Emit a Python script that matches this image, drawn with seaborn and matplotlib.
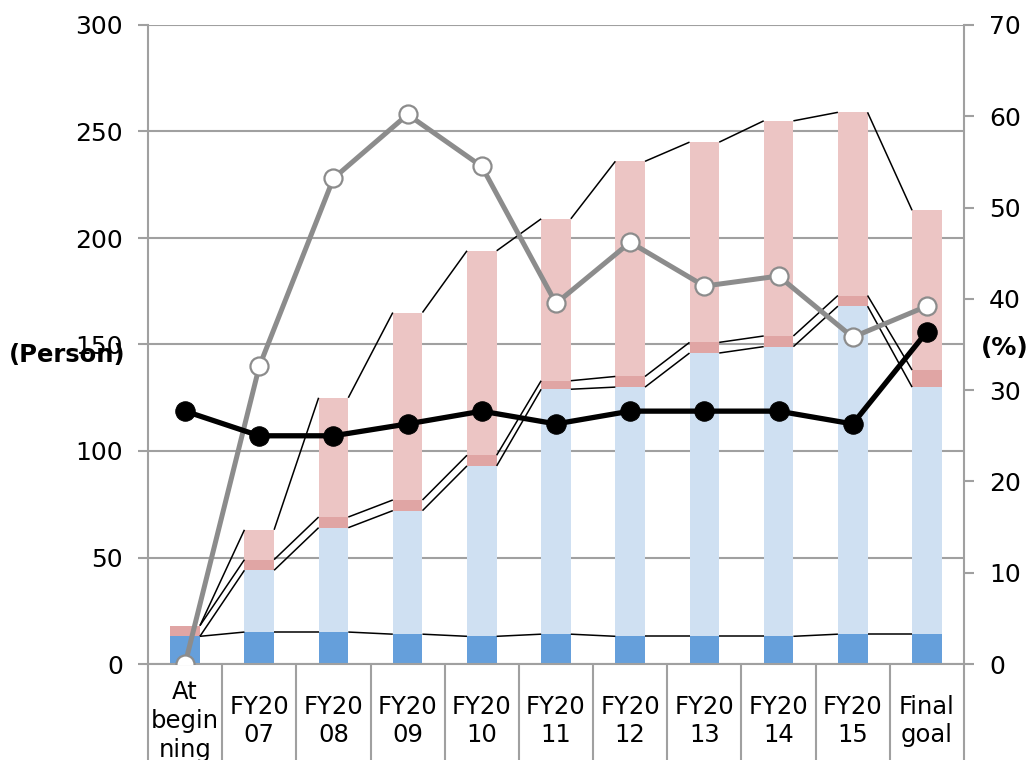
import numpy as np
import pandas as pd
import matplotlib
matplotlib.use("Agg")
import matplotlib.pyplot as plt
import seaborn as sns

# ---- data -------------------------------------------------------------
categories = ["At\nbegin\nning", "FY20\n07", "FY20\n08", "FY20\n09", "FY20\n10",
              "FY20\n11", "FY20\n12", "FY20\n13", "FY20\n14", "FY20\n15", "Final\ngoal"]

# stacked bar segments (persons), bottom to top
seg_dark_blue = [13, 15, 15, 14, 13, 14, 13, 13, 13, 14, 14]
seg_light_blue = [0, 29, 49, 58, 80, 115, 117, 133, 136, 154, 116]
seg_dark_pink = [5, 5, 5, 5, 5, 4, 5, 5, 5, 5, 8]
seg_light_pink = [0, 14, 56, 88, 96, 76, 101, 94, 101, 86, 75]

# ratios on the secondary axis (%)
ratio_gray = [0, 32.6, 53.2, 60.2, 54.5, 39.5, 46.2, 41.4, 42.5, 35.8, 39.2]
ratio_black = [27.7, 25.0, 25.0, 26.3, 27.7, 26.3, 27.7, 27.7, 27.7, 26.3, 36.4]

left_ticks = [0, 50, 100, 150, 200, 250, 300]
right_ticks = [0, 10, 20, 30, 40, 50, 60, 70]

# ---- styling ----------------------------------------------------------
sns.set_theme(style="white")
plt.rcParams["font.family"] = ["DejaVu Sans"]
plt.rcParams["text.color"] = "black"
plt.rcParams["xtick.labelcolor"] = "black"
plt.rcParams["ytick.labelcolor"] = "black"

c_dark_blue = "#659fdb"
c_light_blue = "#cfe0f2"
c_dark_pink = "#e0a5a4"
c_light_pink = "#ecc5c4"
c_axis = "#a0a0a0"

fig = plt.figure(figsize=(10.34, 7.6), dpi=100)
ax = fig.add_axes([148 / 1034, 1 - 664 / 760, (964 - 148) / 1034, (664 - 25) / 760])

n = len(categories)
x = np.arange(n)
layers = np.cumsum(np.array([seg_dark_blue, seg_light_blue, seg_dark_pink, seg_light_pink]), axis=0)
layer_colors = [c_dark_blue, c_light_blue, c_dark_pink, c_light_pink]

df = pd.DataFrame({"cat": categories})
bar_w = 0.4
# draw cumulative heights from the top layer down so each segment shows
for k in range(3, -1, -1):
    df["h"] = layers[k]
    sns.barplot(data=df, x="cat", y="h", color=layer_colors[k], saturation=1,
                width=bar_w, linewidth=0, ax=ax, zorder=2)

# series lines joining segment tops between neighbouring bars
for k in range(4):
    for i in range(n - 1):
        ax.plot([i + bar_w / 2, i + 1 - bar_w / 2], [layers[k][i], layers[k][i + 1]],
                color="black", lw=1.1, zorder=3, solid_capstyle="butt")

ax.set_xlim(-0.5, n - 0.5)
ax.set_ylim(0, 300)
ax.set_yticks(left_ticks)
ax.set_xlabel("")
ax.set_ylabel("")
ax.yaxis.grid(True, color=c_axis, lw=1.5, zorder=0)
ax.set_axisbelow(True)
for s in ["top", "right"]:
    ax.spines[s].set_visible(False)
for s in ["left", "bottom"]:
    ax.spines[s].set_color(c_axis)
    ax.spines[s].set_linewidth(1.5)

ax.tick_params(axis="y", which="major", direction="out", length=7, width=1.5,
               color=c_axis, pad=11, labelsize=18, left=True, labelcolor="black")
ax.set_xticks(x)
ax.set_xticklabels(categories, fontsize=17.5, linespacing=1.25, color="black")
for lab in ax.get_xticklabels():
    lab.set_va("center")
ax.tick_params(axis="x", which="major", length=0, pad=41, bottom=True)
ax.set_xticks(np.arange(-0.5, n, 1.0), minor=True)
ax.tick_params(axis="x", which="minor", direction="out", length=75, width=1.5,
               color=c_axis, bottom=True)

# secondary axis with the two ratio lines
ax2 = ax.twinx()
sns.lineplot(x=x, y=ratio_gray, ax=ax2, color="#8c8c8c", lw=3.6, marker="o",
             markersize=13, markerfacecolor="white", markeredgecolor="#8c8c8c",
             markeredgewidth=1.6, zorder=5)
sns.lineplot(x=x, y=ratio_black, ax=ax2, color="black", lw=3.8, marker="o",
             markersize=14, markerfacecolor="black", markeredgecolor="black", zorder=6)
ax2.set_ylim(0, 70)
ax2.set_yticks(right_ticks)
ax2.set_xlim(-0.5, n - 0.5)
ax2.grid(False)
for s in ["top", "left", "bottom"]:
    ax2.spines[s].set_visible(False)
ax2.spines["right"].set_color(c_axis)
ax2.spines["right"].set_linewidth(1.5)
ax2.tick_params(axis="y", direction="out", length=7, width=1.5, color=c_axis,
                pad=11, labelsize=18, right=True, labelcolor="black")

# axis captions
fig.text(67 / 1034, 1 - 355 / 760, "(Person)", fontsize=17.5, fontweight="bold",
         ha="center", va="center", color="black")
fig.text(1005 / 1034, 1 - 348 / 760, "(%)", fontsize=18, fontweight="bold",
         ha="center", va="center", color="black")

fig.savefig("out.png", dpi=100)
